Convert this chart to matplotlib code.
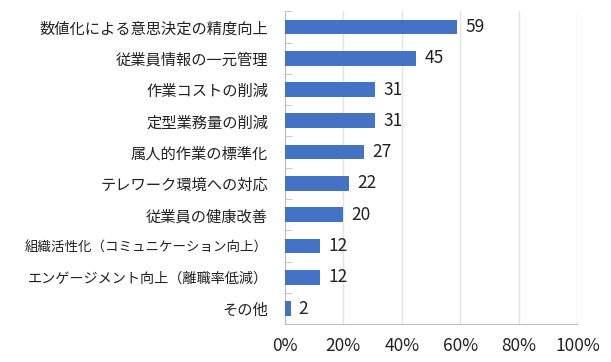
import matplotlib
matplotlib.use('Agg')
import matplotlib.pyplot as plt
import numpy as np

plt.rcParams['font.family'] = ['Noto Sans CJK JP', 'DejaVu Sans']

categories = ['数値化による意思決定の精度向上', '従業員情報の一元管理', '作業コストの削減',
              '定型業務量の削減', '属人的作業の標準化', 'テレワーク環境への対応',
              '従業員の健康改善', '組織活性化（コミュニケーション向上）',
              'エンゲージメント向上（離職率低減）', 'その他']
values = [59, 45, 31, 31, 27, 22, 20, 12, 12, 2]
xticks = [0, 20, 40, 60, 80, 100]

fig = plt.figure(figsize=(6.11, 3.62), dpi=100)
ax = fig.add_axes([0.466, 0.104, 0.479, 0.865])

y = np.arange(len(categories))
ax.barh(y, values, height=0.47, color='#4472C4', zorder=3)
for yi, v in zip(y, values):
    ax.text(v + 2.8, yi, str(v), va='center', ha='left', fontsize=12.5, color='#222222')

ax.set_ylim(len(categories) - 0.5, -0.5)
ax.set_xlim(0, 100)
ax.set_yticks(y)
ax.set_yticklabels(categories, fontsize=11, color='#222222')
# the reference font packs kana tighter; shrink the two long labels so they fit
for lbl in ax.get_yticklabels():
    n = len(lbl.get_text())
    if n > 17:
        lbl.set_fontsize(9.7)
    elif n > 15:
        lbl.set_fontsize(10.2)
ax.set_yticks(np.arange(-0.5, len(categories), 1), minor=True)
ax.tick_params(axis='y', which='major', length=0, pad=12)
ax.tick_params(axis='y', which='minor', direction='in', length=5, color='#BFBFBF')

ax.set_xticks(xticks)
ax.set_xticklabels([f'{t}%' for t in xticks], fontsize=12.5, color='#222222')
ax.tick_params(axis='x', length=0, pad=9)
ax.grid(axis='x', color='#E3E3E3', linewidth=1, zorder=0)

for s in ['top', 'right']:
    ax.spines[s].set_visible(False)
for s in ['left', 'bottom']:
    ax.spines[s].set_color('#BFBFBF')

fig.savefig('out.png', dpi=100)
